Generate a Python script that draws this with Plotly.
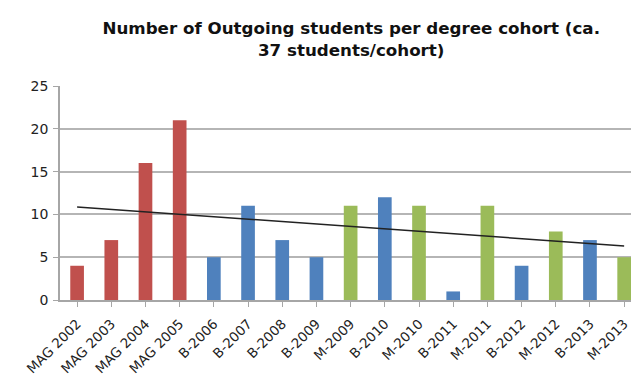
import numpy as np
import plotly.graph_objects as go

categories = ["MAG 2002", "MAG 2003", "MAG 2004", "MAG 2005", "B-2006", "B-2007", "B-2008",
              "B-2009", "M-2009", "B-2010", "M-2010", "B-2011", "M-2011", "B-2012", "M-2012",
              "B-2013", "M-2013"]
values = [4, 7, 16, 21, 5, 11, 7, 5, 11, 12, 11, 1, 11, 4, 8, 7, 5]
groups = ["MAG", "MAG", "MAG", "MAG", "B", "B", "B", "B", "M", "B", "M", "B", "M", "B", "M", "B", "M"]
group_colors = {"MAG": "#c0504d", "B": "#4f81bd", "M": "#9bbb59"}
y_ticks = [0, 5, 10, 15, 20, 25]

idx = np.arange(len(values))
slope, intercept = np.polyfit(idx, values, 1)
trend = slope * idx + intercept

fig = go.Figure()
fig.add_trace(go.Bar(
    x=idx, y=values,
    marker=dict(color=[group_colors[g] for g in groups], line=dict(width=0)),
    width=0.4, showlegend=False,
))
fig.add_trace(go.Scatter(
    x=[idx[0], idx[-1]], y=[trend[0], trend[-1]], mode="lines",
    line=dict(color="#222222", width=1.5), showlegend=False,
))

fig.update_layout(
    width=631, height=378,
    margin=dict(l=60, r=0, t=86, b=78, autoexpand=False),
    paper_bgcolor="white", plot_bgcolor="white",
    title=dict(
        text="Number of Outgoing students per degree cohort (ca.<br>37 students/cohort)",
        x=0.51, xref="paper", xanchor="center", y=0.91, yanchor="top",
        font=dict(family="DejaVu Sans", size=16.7, color="#111111", weight="bold"),
    ),
    font=dict(family="DejaVu Sans", color="#222222"),
)
fig.update_xaxes(
    range=[-0.5, 16.2], tickmode="array", tickvals=idx.tolist(), ticktext=categories,
    tickangle=-45, tickfont=dict(size=13.5, color="#222222"), ticklabelstandoff=4,
    ticklabeloverflow="allow", automargin=False,
    showgrid=False, showline=True, linecolor="#a6a6a6", linewidth=1.5,
    ticks="outside", ticklen=5, tickcolor="#a6a6a6", tickson="boundaries",
    zeroline=False,
)
fig.update_yaxes(
    range=[0, 25], tickvals=y_ticks, tickfont=dict(size=14, color="#222222"),
    automargin=False, ticklabelstandoff=2,
    showgrid=True, gridcolor="#b5b5b5", gridwidth=1.5,
    showline=True, linecolor="#a6a6a6", linewidth=1.5,
    ticks="outside", ticklen=5, tickcolor="#a6a6a6", zeroline=False,
)

fig.write_html("out.html")
